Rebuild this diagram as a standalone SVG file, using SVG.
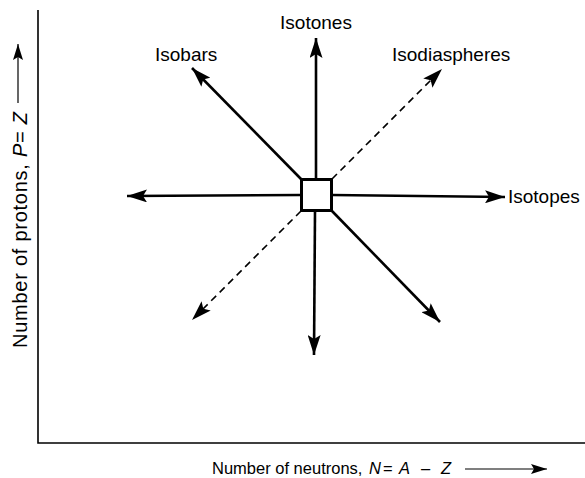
<svg xmlns="http://www.w3.org/2000/svg" width="585" height="478" viewBox="0 0 585 478">
<defs>
<marker id="ah" markerUnits="userSpaceOnUse" markerWidth="22" markerHeight="13" refX="20" refY="6.5" orient="auto">
<path d="M0,0 L20,6.5 L0,13 L4,6.5 Z" fill="#000"/>
</marker>
<marker id="ahs" markerUnits="userSpaceOnUse" markerWidth="18" markerHeight="10" refX="16" refY="5" orient="auto">
<path d="M0,0 L16,5 L0,10 L3,5 Z" fill="#000"/>
</marker>
</defs>
<style>
text{font-family:"Liberation Sans",Arial,sans-serif;font-size:19px;fill:#000}
.xl{font-size:16.5px}
.yl{font-size:20px}
.solid{stroke:#000;stroke-width:2.6;fill:none;marker-end:url(#ah)}
.dash{stroke:#000;stroke-width:1.6;fill:none;stroke-dasharray:7 5;marker-end:url(#ah)}
.axis{stroke:#000;stroke-width:1.6;fill:none}
.ax-arrow{stroke:#000;stroke-width:1.2;fill:none;marker-end:url(#ahs)}
</style>
<g id="axes">
<path class="axis" d="M38,10 L38,443 L585,443"/>
</g>
<g id="connectors">
<line class="solid" x1="316" y1="179" x2="316" y2="38"/>
<line class="solid" x1="315" y1="211" x2="314" y2="355"/>
<line class="solid" x1="301" y1="195" x2="127" y2="196"/>
<line class="solid" x1="332" y1="195" x2="505" y2="197"/>
<line class="solid" x1="301" y1="179" x2="192" y2="68"/>
<line class="solid" x1="332" y1="211" x2="440" y2="322"/>
<line class="dash" x1="332" y1="179" x2="442" y2="69"/>
<line class="dash" x1="301" y1="211" x2="192" y2="320"/>
</g>
<g id="nucleus">
<rect x="301.5" y="179.5" width="30" height="31" fill="#fff" stroke="#000" stroke-width="3"/>
</g>
<g id="isotones"><text x="316" y="29" text-anchor="middle">Isotones</text></g>
<g id="isobars"><text x="155" y="61">Isobars</text></g>
<g id="isodiaspheres"><text x="392" y="61">Isodiaspheres</text></g>
<g id="isotopes"><text x="508" y="203">Isotopes</text></g>
<g id="ylabel">
<text class="yl" transform="translate(27,348) rotate(-90)" textLength="236" lengthAdjust="spacing">Number of protons, <tspan font-style="italic">P</tspan>= <tspan font-style="italic">Z</tspan></text>
<line class="ax-arrow" x1="18" y1="103" x2="18" y2="44"/>
</g>
<g id="xlabel">
<text class="xl" x="212" y="474">Number of neutrons,<tspan x="369" font-style="italic">N</tspan><tspan x="383">=</tspan><tspan x="399" font-style="italic">A</tspan><tspan x="421">–</tspan><tspan x="441" font-style="italic">Z</tspan></text>
<line class="ax-arrow" x1="465" y1="469" x2="547" y2="469"/>
</g>
</svg>
